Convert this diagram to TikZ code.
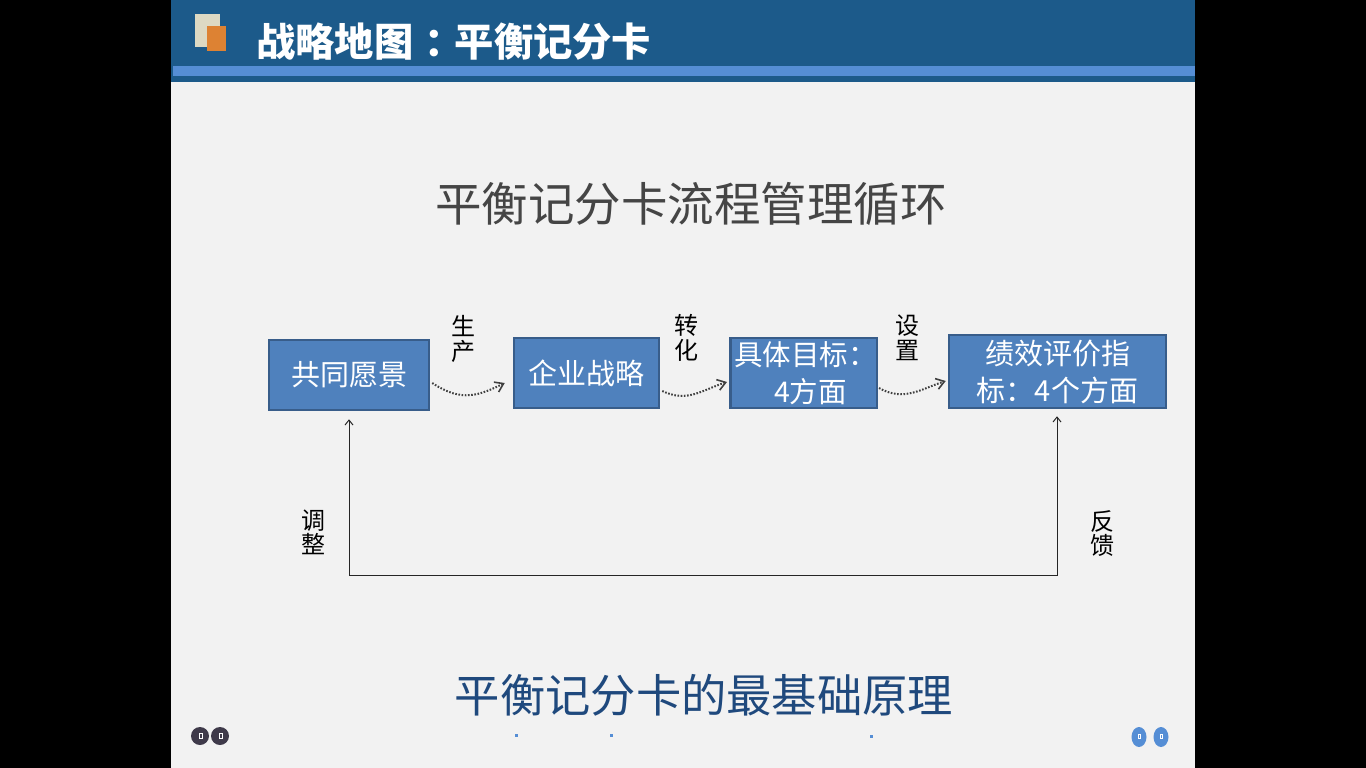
\documentclass[tikz,border=0pt]{standalone}
\usepackage{fontspec}
\setmainfont{Noto Sans CJK SC}
\usetikzlibrary{arrows.meta}
\definecolor{hdr}{HTML}{1C5A8A}
\definecolor{hdrlight}{HTML}{558ED5}
\definecolor{slidebg}{HTML}{F2F2F2}
\definecolor{boxfill}{HTML}{4F81BD}
\definecolor{boxline}{HTML}{385D8A}
\definecolor{beige}{HTML}{DDD9C3}
\definecolor{orng}{HTML}{DD8233}
\definecolor{subgray}{HTML}{454545}
\definecolor{darkblue}{HTML}{1F497D}
\definecolor{dotgray}{HTML}{404040}
\definecolor{navdark}{HTML}{3F3A4A}
\tikzset{
  procbox/.style={draw=boxline, fill=boxfill, line width=2.5pt, text=white,
    inner sep=0pt, align=center, font=\fontsize{29}{37}\selectfont},
  steplabel/.style={inner sep=0pt, align=center, text=black,
    font=\fontsize{24}{24.5}\selectfont},
  dotarrow/.style={draw=dotgray, line width=2pt, dash pattern=on 1.6pt off 1.6pt,
    -{Straight Barb[length=8pt,width=11pt,line width=1.6pt]}},
  fbline/.style={draw=black!85, line width=1pt,
    {Straight Barb[length=5pt,width=8pt]}-{Straight Barb[length=5pt,width=8pt]}},
  navdot/.style={fill=hdrlight},
}
\begin{document}
\begin{tikzpicture}[x=1pt,y=-1pt]
\useasboundingbox (0,0) rectangle (1366,768);
\fill[black] (0,0) rectangle (1366,768);
\fill[slidebg] (171,0) rectangle (1195,768);
% header
\fill[hdr] (171,0) rectangle (1195,82);
\fill[hdrlight] (173,66) rectangle (1195,76);
\fill[beige] (195,14) rectangle (220,47);
\fill[orng] (207,26) rectangle (226,51);
\node[anchor=west, inner sep=0pt, text=white, font=\fontsize{39.3}{41}\selectfont\bfseries] (title) at (256,42) {战略地图\hspace{11pt}：\hspace{-9pt}平衡记分卡};
% subtitle
\node[inner sep=0pt, text=subgray, font=\fontsize{46.5}{48}\selectfont] (sub) at (691,204) {平衡记分卡流程管理循环};
% boxes
\node[procbox, minimum width=160pt, minimum height=70pt] (b1) at (349,375) {共同愿景};
\node[procbox, minimum width=145pt, minimum height=70pt] (b2) at (586.5,373) {企业战略};
\node[procbox, minimum width=145pt, minimum height=70pt, font=\fontsize{28.5}{37}\selectfont] (b3) at (803.5,373) {\hspace*{4pt}具体目标：\\\hspace*{14pt}4方面};
\node[procbox, minimum width=217pt, minimum height=73pt] (b4) at (1057.5,371.5) {绩效评价指\\标：4个方面};
% step labels
\node[steplabel] (l1) at (463,339) {生\\产};
\node[steplabel] (l2) at (686,338) {转\\化};
\node[steplabel] (l3) at (907,337.5) {设\\置};
% dotted arrows
\draw[dotarrow] ([xshift=2pt,yshift=-8pt]b1.east) .. controls +(30,20) and +(-25,12) .. ([xshift=-8pt,yshift=-10pt]b2.west);
\draw[dotarrow] ([xshift=2pt,yshift=-18pt]b2.east) .. controls +(25,12) and +(-25,8) .. ([xshift=-2pt,yshift=-9pt]b3.west);
\draw[dotarrow] ([xshift=1pt,yshift=-15pt]b3.east) .. controls +(25,14) and +(-25,8) .. ([xshift=-2pt,yshift=-9.5pt]b4.west);
% feedback loop
\coordinate (fb) at (700,575);
\draw[fbline] ([yshift=-8pt]b1.south) -- (b1.south |- fb) -- ([xshift=-0.5pt]b4.south |- fb) -- ([xshift=-0.5pt,yshift=-7pt]b4.south);
\node[steplabel] (l4) at (313,532.5) {调\\整};
\node[steplabel] (l5) at (1102,533.5) {反\\馈};
% bottom text
\node[inner sep=0pt, text=darkblue, font=\fontsize{45.3}{47}\selectfont] (bottom) at (704,695) {平衡记分卡的最基础原理};
% small dots
\fill[navdot] (514.5,733.5) rectangle (517.5,736.5);
\fill[navdot] (609.5,733.5) rectangle (612.5,736.5);
\fill[navdot] (869.5,734.5) rectangle (872.5,737.5);
% nav circles
\fill[navdark] (200,736) circle (9);
\fill[navdark] (220,736) circle (9);
\draw[white, line width=0.6pt] (199,733) rectangle (202,738);
\draw[white, line width=0.6pt] (219,733) rectangle (222,738);
\fill[hdrlight] (1139,737) ellipse (7.5 and 10);
\fill[hdrlight] (1161,737) ellipse (7.5 and 10);
\draw[white, line width=0.6pt] (1138,734.5) rectangle (1140,738.5);
\draw[white, line width=0.6pt] (1160,734.5) rectangle (1162,738.5);
\end{tikzpicture}
\end{document}
